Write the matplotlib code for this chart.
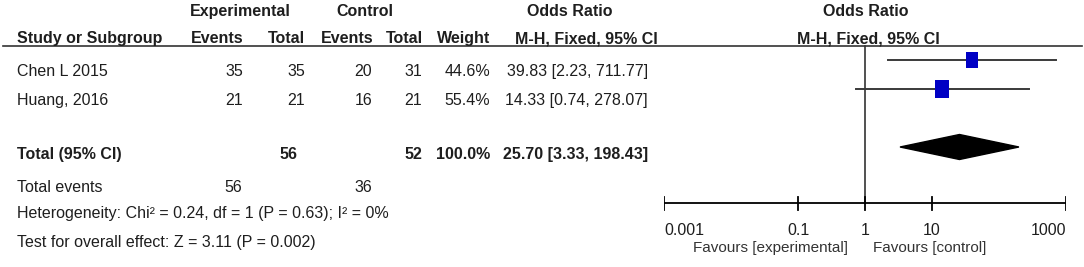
import numpy as np
import matplotlib.pyplot as plt
from matplotlib.patches import Polygon

plt.rcParams['font.family'] = ['Liberation Sans', 'DejaVu Sans']

# study data
studies = ['Chen L 2015', 'Huang, 2016']
exp_events = [35, 21]
exp_total = [35, 21]
ctl_events = [20, 16]
ctl_total = [31, 21]
weights = [44.6, 55.4]
odds = [39.83, 14.33]
ci_low = [2.23, 0.74]
ci_high = [711.77, 278.07]

# pooled result
pooled_or = 25.70
pooled_low = 3.33
pooled_high = 198.43
sum_exp_total = 56
sum_ctl_total = 52
sum_exp_events = 56
sum_ctl_events = 36
heterogeneity = 'Heterogeneity: Chi² = 0.24, df = 1 (P = 0.63); I² = 0%'
overall = 'Test for overall effect: Z = 3.11 (P = 0.002)'
tick_vals = [0.001, 0.1, 1, 10, 1000]
tick_labels = ['0.001', '0.1', '1', '10', '1000']

txt = '#1e1e1e'
fs = 11.5

fig = plt.figure(figsize=(10.84, 2.67), dpi=100)
ax = fig.add_axes([0, 0, 1, 1])
ax.set_xlim(0, 1084)
ax.set_ylim(267, 0)
ax.axis('off')

def t(x, y, s, ha='left', bold=False):
    ax.text(x, y, s, ha=ha, va='baseline', fontsize=fs, color=txt,
            fontweight='bold' if bold else 'normal')

# headers
t(240, 16, 'Experimental', 'center', True)
t(365, 16, 'Control', 'center', True)
t(570, 16, 'Odds Ratio', 'center', True)
t(866, 16, 'Odds Ratio', 'center', True)
t(17, 43, 'Study or Subgroup', 'left', True)
t(243, 43, 'Events', 'right', True)
t(305, 43, 'Total', 'right', True)
t(373, 43, 'Events', 'right', True)
t(423, 43, 'Total', 'right', True)
t(490, 43, 'Weight', 'right', True)
t(586, 43, 'M-H, Fixed, 95% CI', 'center', True)
t(868, 43, 'M-H, Fixed, 95% CI', 'center', True)
ax.plot([3, 1082], [45.5, 45.5], color='#333333', lw=1.2)

# study rows
text_base = [76, 105]
for i, name in enumerate(studies):
    y = text_base[i]
    t(17, y, name)
    t(243, y, str(exp_events[i]), 'right')
    t(305, y, str(exp_total[i]), 'right')
    t(372, y, str(ctl_events[i]), 'right')
    t(422, y, str(ctl_total[i]), 'right')
    t(490, y, f'{weights[i]:.1f}%', 'right')
    t(648, y, f'{odds[i]:.2f} [{ci_low[i]:.2f}, {ci_high[i]:.2f}]', 'right')

# total row
t(17, 159, 'Total (95% CI)', 'left', True)
t(297, 159, str(sum_exp_total), 'right', True)
t(422, 159, str(sum_ctl_total), 'right', True)
t(490, 159, f'{sum(weights):.1f}%', 'right', True)
t(648, 159, f'{pooled_or:.2f} [{pooled_low:.2f}, {pooled_high:.2f}]', 'right', True)
t(17, 192, 'Total events')
t(242, 192, str(sum_exp_events), 'right')
t(372, 192, str(sum_ctl_events), 'right')
t(17, 218, heterogeneity)
t(17, 247, overall)

# forest panel
x0, x1 = 664, 1066
fax = fig.add_axes([x0 / 1084, 0, (x1 - x0) / 1084, 1])
fax.set_xscale('log')
fax.set_xlim(tick_vals[0], tick_vals[-1])
fax.set_ylim(267, 0)
fax.axis('off')
fax.patch.set_alpha(0)

fax.plot([1, 1], [45.5, 203], color='#333333', lw=1.2)
line_y = [60, 89]
for i in range(len(studies)):
    fax.plot([ci_low[i], ci_high[i]], [line_y[i], line_y[i]], color='#3a3a3a', lw=1.4)
    s = np.sqrt(weights[i])
    fax.plot(odds[i], line_y[i], marker=[(-0.37, -0.5), (0.37, -0.5), (0.37, 0.5), (-0.37, 0.5)],
             markersize=1.83 * s, color='#0000c4', mec='#0000c4', mew=0)

dy = 147
dh = 12.5
fax.add_patch(Polygon([(pooled_low, dy), (pooled_or, dy - dh), (pooled_high, dy), (pooled_or, dy + dh)],
                      closed=True, color='black'))

# axis
fax.plot([tick_vals[0], tick_vals[-1]], [203, 203], color='black', lw=1.3)
n = len(tick_vals)
for k, (v, lab) in enumerate(zip(tick_vals, tick_labels)):
    fax.plot([v, v], [197, 210], color='black', lw=1.3)
    ha = 'left' if k == 0 else ('right' if k == n - 1 else 'center')
    fax.text(v, 235, lab, ha=ha, va='baseline', fontsize=fs, color=txt)
fax.text(0.55, 252, 'Favours [experimental]', ha='right', va='baseline', fontsize=fs - 0.5, color='#333333')
fax.text(1.3, 252, 'Favours [control]', ha='left', va='baseline', fontsize=fs - 0.5, color='#333333')

fig.savefig('out.png', dpi=100)
